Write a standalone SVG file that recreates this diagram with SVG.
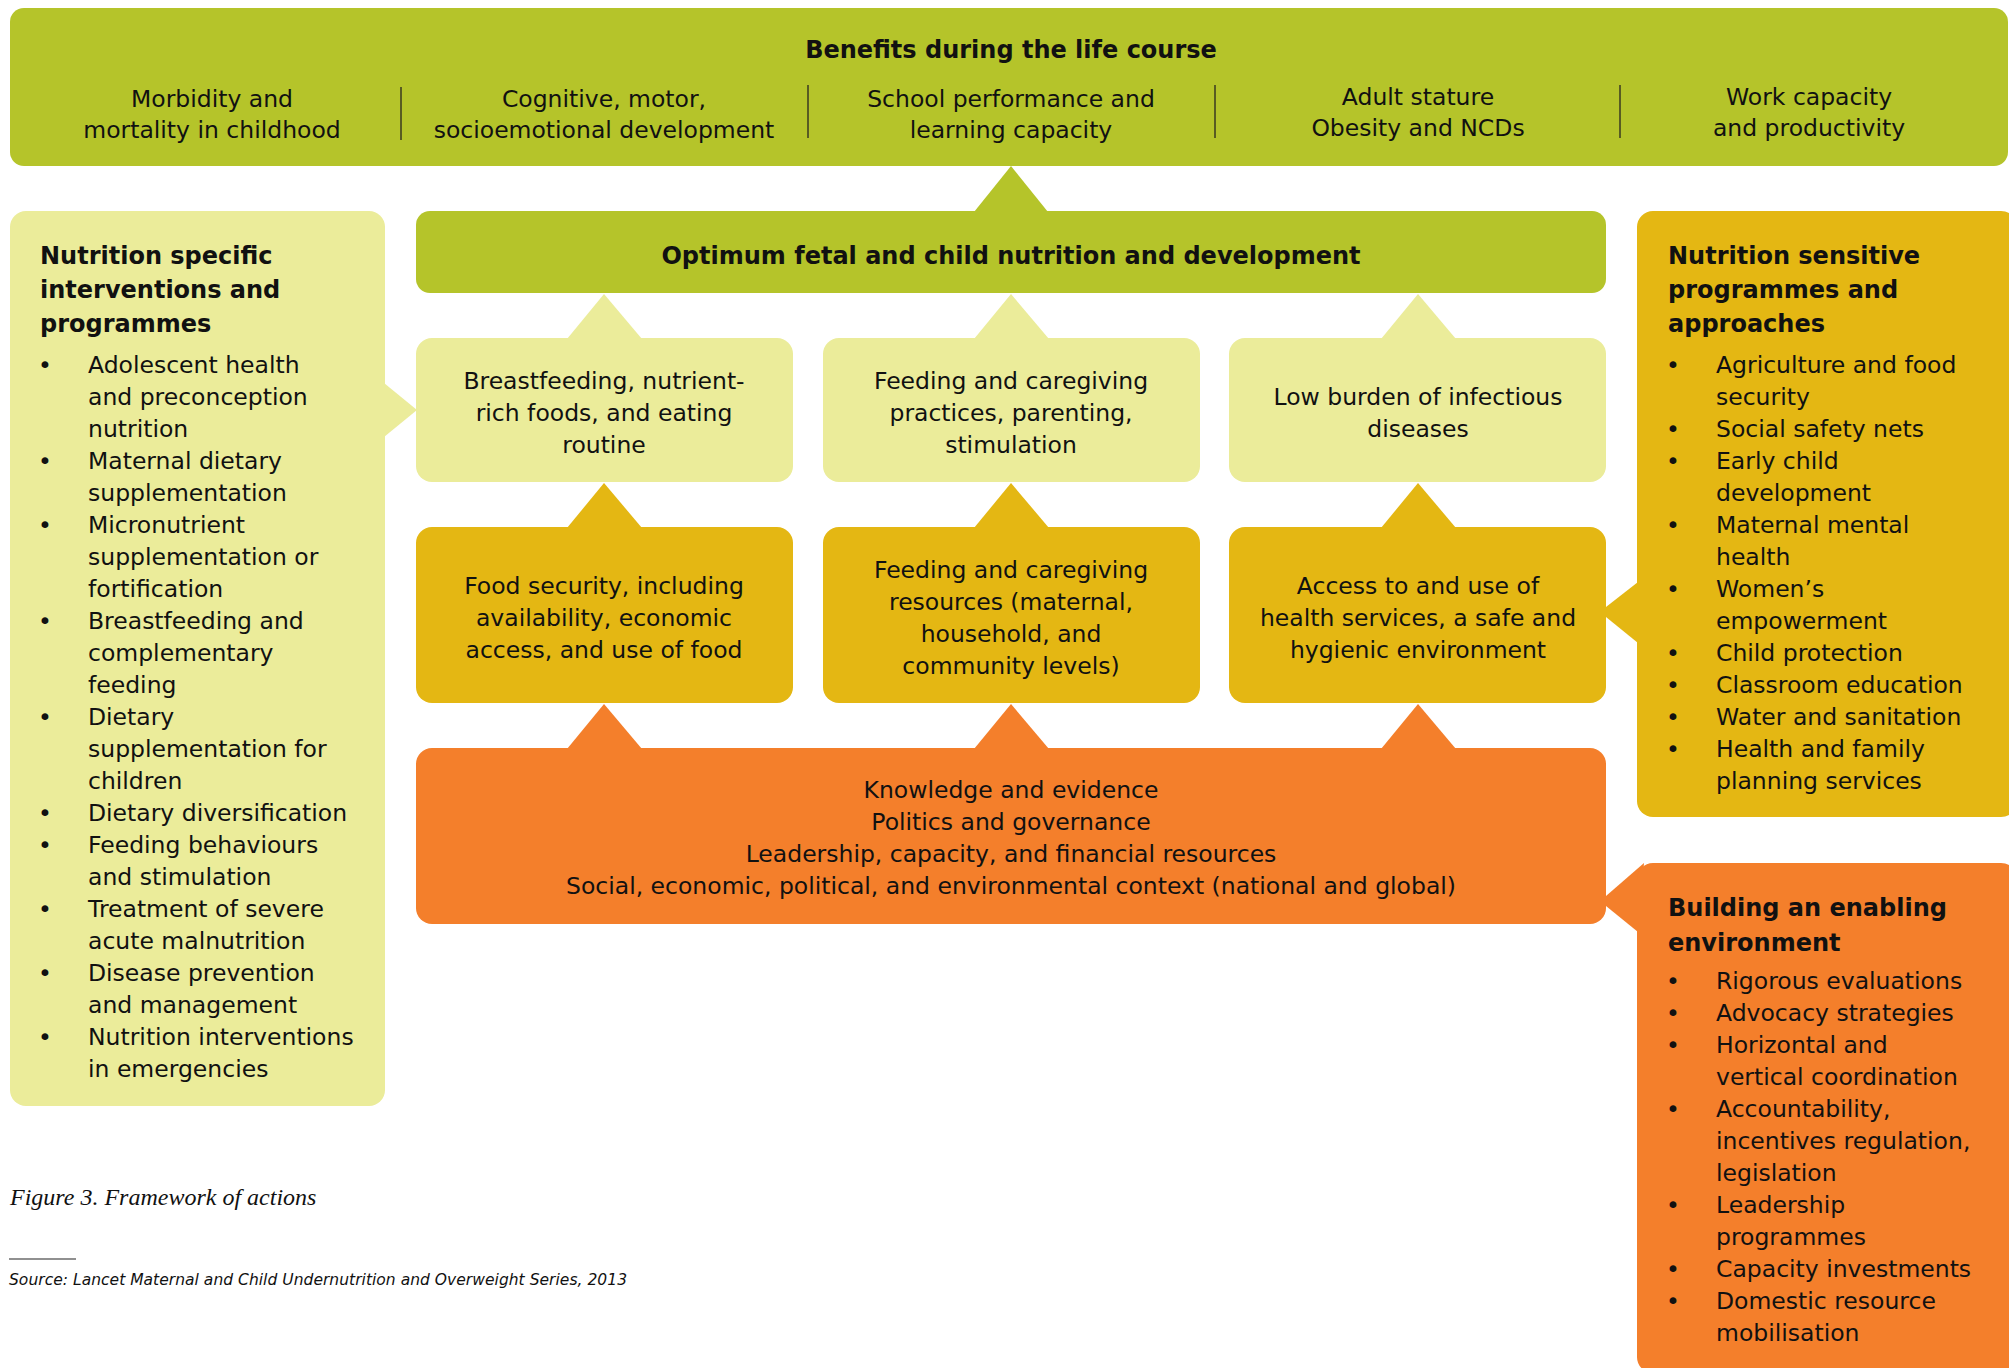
<svg xmlns="http://www.w3.org/2000/svg" width="2009" height="1368" viewBox="0 0 2009 1368">
<style>
  text { font-family: "DejaVu Sans", "Open Sans", sans-serif; fill: #111; }
  .t { font-size: 23.5px; }
  .c { text-anchor: middle; }
  .b { font-weight: bold; font-size: 24px; }
  .green { fill: #B5C42A; }
  .light { fill: #EBEC9A; }
  .gold { fill: #E4B713; }
  .orange { fill: #F47F2B; }
  .div { stroke: #3a3a20; stroke-width: 1.5; }
  .bul { text-anchor: middle; font-size: 23.5px; }
</style>
<rect width="2009" height="1368" fill="#ffffff"/>

<g id="connectors">
  <polygon class="green" points="974,212 1011,166 1048,212"/>
  <polygon class="light" points="567,339 604,294 642,339"/>
  <polygon class="light" points="974,339 1011,294 1049,339"/>
  <polygon class="light" points="1381,339 1418,294 1456,339"/>
  <polygon class="gold" points="567,528 604,483 642,528"/>
  <polygon class="gold" points="974,528 1011,483 1049,528"/>
  <polygon class="gold" points="1381,528 1418,483 1456,528"/>
  <polygon class="orange" points="567,749 604,704 642,749"/>
  <polygon class="orange" points="974,749 1011,704 1049,749"/>
  <polygon class="orange" points="1381,749 1418,704 1456,749"/>
  <polygon class="light" points="384,383 417,410 384,437"/>
  <polygon class="gold" points="1638,582 1606,607 1606,617 1638,643"/>
  <polygon class="orange" points="1644,863 1606,896 1606,906 1638,932"/>
</g>

<g id="benefits">
  <rect class="green" x="10" y="8" width="1998" height="158" rx="14"/>
  <text class="b c" x="1011" y="58">Benefits during the life course</text>
  <text class="t c" x="212" y="107">Morbidity and</text>
  <text class="t c" x="212" y="138">mortality in childhood</text>
  <line class="div" x1="401" y1="87" x2="401" y2="140"/>
  <text class="t c" x="604" y="107">Cognitive, motor,</text>
  <text class="t c" x="604" y="138">socioemotional development</text>
  <line class="div" x1="808" y1="85" x2="808" y2="138"/>
  <text class="t c" x="1011" y="107">School performance and</text>
  <text class="t c" x="1011" y="138">learning capacity</text>
  <line class="div" x1="1215" y1="85" x2="1215" y2="138"/>
  <text class="t c" x="1418" y="105">Adult stature</text>
  <text class="t c" x="1418" y="136">Obesity and NCDs</text>
  <line class="div" x1="1620" y1="85" x2="1620" y2="138"/>
  <text class="t c" x="1809" y="105">Work capacity</text>
  <text class="t c" x="1809" y="136">and productivity</text>
</g>

<g id="optimum">
  <rect class="green" x="416" y="211" width="1190" height="82" rx="14"/>
  <text class="b c" x="1011" y="264">Optimum fetal and child nutrition and development</text>
</g>

<g id="breastfeeding">
  <rect class="light" x="416" y="338" width="377" height="144" rx="16"/>
  <text class="t c" x="604" y="389">Breastfeeding, nutrient-</text>
  <text class="t c" x="604" y="421">rich foods, and eating</text>
  <text class="t c" x="604" y="453">routine</text>
</g>

<g id="feeding-practices">
  <rect class="light" x="823" y="338" width="377" height="144" rx="16"/>
  <text class="t c" x="1011" y="389">Feeding and caregiving</text>
  <text class="t c" x="1011" y="421">practices, parenting,</text>
  <text class="t c" x="1011" y="453">stimulation</text>
</g>

<g id="low-burden">
  <rect class="light" x="1229" y="338" width="377" height="144" rx="16"/>
  <text class="t c" x="1418" y="405">Low burden of infectious</text>
  <text class="t c" x="1418" y="437">diseases</text>
</g>

<g id="food-security">
  <rect class="gold" x="416" y="527" width="377" height="176" rx="16"/>
  <text class="t c" x="604" y="594">Food security, including</text>
  <text class="t c" x="604" y="626">availability, economic</text>
  <text class="t c" x="604" y="658">access, and use of food</text>
</g>

<g id="feeding-resources">
  <rect class="gold" x="823" y="527" width="377" height="176" rx="16"/>
  <text class="t c" x="1011" y="578">Feeding and caregiving</text>
  <text class="t c" x="1011" y="610">resources (maternal,</text>
  <text class="t c" x="1011" y="642">household, and</text>
  <text class="t c" x="1011" y="674">community levels)</text>
</g>

<g id="health-services">
  <rect class="gold" x="1229" y="527" width="377" height="176" rx="16"/>
  <text class="t c" x="1418" y="594">Access to and use of</text>
  <text class="t c" x="1418" y="626">health services, a safe and</text>
  <text class="t c" x="1418" y="658">hygienic environment</text>
</g>

<g id="context">
  <rect class="orange" x="416" y="748" width="1190" height="176" rx="16"/>
  <text class="t c" x="1011" y="798">Knowledge and evidence</text>
  <text class="t c" x="1011" y="830">Politics and governance</text>
  <text class="t c" x="1011" y="862">Leadership, capacity, and financial resources</text>
  <text class="t c" x="1011" y="894">Social, economic, political, and environmental context (national and global)</text>
</g>

<g id="nutrition-specific">
  <rect class="light" x="10" y="211" width="375" height="895" rx="16"/>
  <text class="b" x="40" y="264">Nutrition specific</text>
  <text class="b" x="40" y="298">interventions and</text>
  <text class="b" x="40" y="332">programmes</text>
  <text class="bul" x="45" y="373">•</text><text class="t" x="88" y="373">Adolescent health</text>
  <text class="t" x="88" y="405">and preconception</text>
  <text class="t" x="88" y="437">nutrition</text>
  <text class="bul" x="45" y="469">•</text><text class="t" x="88" y="469">Maternal dietary</text>
  <text class="t" x="88" y="501">supplementation</text>
  <text class="bul" x="45" y="533">•</text><text class="t" x="88" y="533">Micronutrient</text>
  <text class="t" x="88" y="565">supplementation or</text>
  <text class="t" x="88" y="597">fortification</text>
  <text class="bul" x="45" y="629">•</text><text class="t" x="88" y="629">Breastfeeding and</text>
  <text class="t" x="88" y="661">complementary</text>
  <text class="t" x="88" y="693">feeding</text>
  <text class="bul" x="45" y="725">•</text><text class="t" x="88" y="725">Dietary</text>
  <text class="t" x="88" y="757">supplementation for</text>
  <text class="t" x="88" y="789">children</text>
  <text class="bul" x="45" y="821">•</text><text class="t" x="88" y="821">Dietary diversification</text>
  <text class="bul" x="45" y="853">•</text><text class="t" x="88" y="853">Feeding behaviours</text>
  <text class="t" x="88" y="885">and stimulation</text>
  <text class="bul" x="45" y="917">•</text><text class="t" x="88" y="917">Treatment of severe</text>
  <text class="t" x="88" y="949">acute malnutrition</text>
  <text class="bul" x="45" y="981">•</text><text class="t" x="88" y="981">Disease prevention</text>
  <text class="t" x="88" y="1013">and management</text>
  <text class="bul" x="45" y="1045">•</text><text class="t" x="88" y="1045">Nutrition interventions</text>
  <text class="t" x="88" y="1077">in emergencies</text>
</g>

<g id="nutrition-sensitive">
  <rect class="gold" x="1637" y="211" width="380" height="606" rx="16"/>
  <text class="b" x="1668" y="264">Nutrition sensitive</text>
  <text class="b" x="1668" y="298">programmes and</text>
  <text class="b" x="1668" y="332">approaches</text>
  <text class="bul" x="1673" y="373">•</text><text class="t" x="1716" y="373">Agriculture and food</text>
  <text class="t" x="1716" y="405">security</text>
  <text class="bul" x="1673" y="437">•</text><text class="t" x="1716" y="437">Social safety nets</text>
  <text class="bul" x="1673" y="469">•</text><text class="t" x="1716" y="469">Early child</text>
  <text class="t" x="1716" y="501">development</text>
  <text class="bul" x="1673" y="533">•</text><text class="t" x="1716" y="533">Maternal mental</text>
  <text class="t" x="1716" y="565">health</text>
  <text class="bul" x="1673" y="597">•</text><text class="t" x="1716" y="597">Women’s</text>
  <text class="t" x="1716" y="629">empowerment</text>
  <text class="bul" x="1673" y="661">•</text><text class="t" x="1716" y="661">Child protection</text>
  <text class="bul" x="1673" y="693">•</text><text class="t" x="1716" y="693">Classroom education</text>
  <text class="bul" x="1673" y="725">•</text><text class="t" x="1716" y="725">Water and sanitation</text>
  <text class="bul" x="1673" y="757">•</text><text class="t" x="1716" y="757">Health and family</text>
  <text class="t" x="1716" y="789">planning services</text>
</g>

<g id="enabling-environment">
  <rect class="orange" x="1637" y="863" width="380" height="510" rx="16"/>
  <text class="b" x="1668" y="916">Building an enabling</text>
  <text class="b" x="1668" y="951">environment</text>
  <text class="bul" x="1673" y="989">•</text><text class="t" x="1716" y="989">Rigorous evaluations</text>
  <text class="bul" x="1673" y="1021">•</text><text class="t" x="1716" y="1021">Advocacy strategies</text>
  <text class="bul" x="1673" y="1053">•</text><text class="t" x="1716" y="1053">Horizontal and</text>
  <text class="t" x="1716" y="1085">vertical coordination</text>
  <text class="bul" x="1673" y="1117">•</text><text class="t" x="1716" y="1117">Accountability,</text>
  <text class="t" x="1716" y="1149">incentives regulation,</text>
  <text class="t" x="1716" y="1181">legislation</text>
  <text class="bul" x="1673" y="1213">•</text><text class="t" x="1716" y="1213">Leadership</text>
  <text class="t" x="1716" y="1245">programmes</text>
  <text class="bul" x="1673" y="1277">•</text><text class="t" x="1716" y="1277">Capacity investments</text>
  <text class="bul" x="1673" y="1309">•</text><text class="t" x="1716" y="1309">Domestic resource</text>
  <text class="t" x="1716" y="1341">mobilisation</text>
</g>

<g id="caption">
  <text x="10" y="1205" style="font-family: 'Liberation Serif', 'DejaVu Serif', serif; font-style: italic; font-size: 24px;">Figure 3. Framework of actions</text>
  <line x1="9" y1="1259" x2="76" y2="1259" stroke="#222" stroke-width="1.2"/>
  <text x="9" y="1285" textLength="618" lengthAdjust="spacing" style="font-style: italic; font-size: 15.5px;">Source: Lancet Maternal and Child Undernutrition and Overweight Series, 2013</text>
</g>
</svg>
